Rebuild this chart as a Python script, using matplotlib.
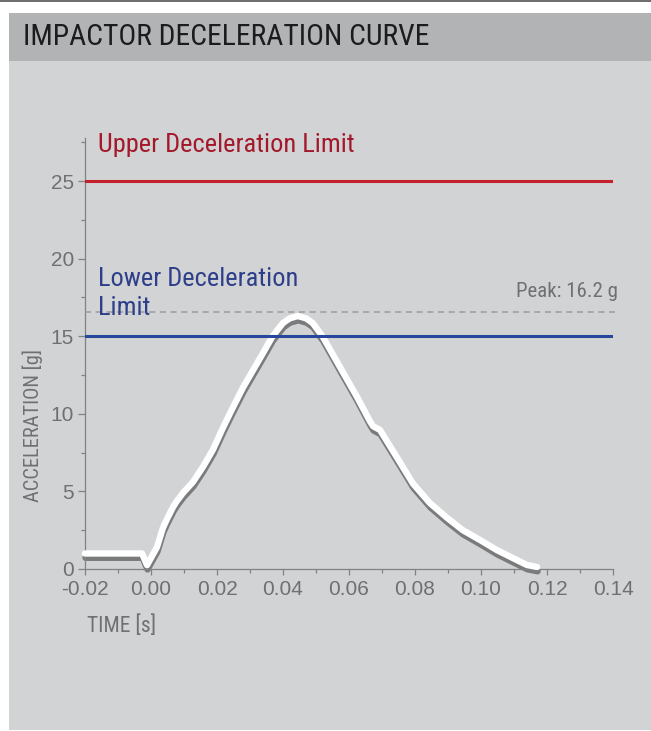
"""Impactor deceleration curve, redrawn with matplotlib."""
import matplotlib
matplotlib.use("Agg")
import matplotlib.pyplot as plt
import matplotlib.patches as mpatches
import matplotlib.transforms as mtransforms
from matplotlib import font_manager

# ── data ─────────────────────────────────────────────────────────
time_s = [-0.020, -0.0027, -0.0012, 0.0018, 0.0036, 0.0048, 0.0067, 0.0079,
          0.0097, 0.0127, 0.0158, 0.0188, 0.0218, 0.0248, 0.0279, 0.0309,
          0.0339, 0.0367, 0.0385, 0.0400, 0.0420, 0.0445, 0.0470, 0.0490,
          0.0521, 0.0573, 0.0624, 0.0664, 0.0673, 0.0694, 0.0745, 0.0794,
          0.0845, 0.0897, 0.0945, 0.0997, 0.1048, 0.1097, 0.1139, 0.1170]
accel_g = [1.0, 1.0, 0.25, 1.4, 2.64, 3.2, 4.0, 4.4,
           4.9, 5.6, 6.6, 7.7, 9.1, 10.4, 11.7, 12.8,
           13.9, 14.95, 15.45, 15.85, 16.15, 16.3, 16.15, 15.85,
           14.95, 13.0, 11.1, 9.5, 9.2, 8.96, 7.2, 5.5,
           4.25, 3.3, 2.5, 1.87, 1.22, 0.7, 0.26, 0.13]

upper_limit = 25
lower_limit = 15
peak_line = 16.56
peak_text = "Peak: 16.2 g"

x_ticks = [-0.02, 0.00, 0.02, 0.04, 0.06, 0.08, 0.10, 0.12, 0.14]
y_ticks = [0, 5, 10, 15, 20, 25]

W, H = 651, 731


def pick(names):
    have = {f.name for f in font_manager.fontManager.ttflist}
    return [n for n in names if n in have] + ["DejaVu Sans"]


NARROW = pick(["Liberation Sans Narrow", "DejaVu Sans Condensed", "Roboto Condensed"])
PLAIN = pick(["Liberation Sans", "Arial", "Roboto"])

GRAY_TXT = "#6f7072"

fig = plt.figure(figsize=(W / 100, H / 100), dpi=100, facecolor="white")

# ── page furniture ───────────────────────────────────────────────
def px_rect(x0, y0, x1, y1, color):
    fig.patches.append(mpatches.Rectangle(
        (x0 / W, 1 - y1 / H), (x1 - x0) / W, (y1 - y0) / H,
        transform=fig.transFigure, color=color, zorder=-10, lw=0))

px_rect(0, 0, W, 2, "#6e6f71")
px_rect(9, 13, W, H - 1, "#d2d3d5")
px_rect(9, 13, W, 61, "#b1b3b5")
fig.text(23 / W, 1 - 37 / H, "IMPACTOR DECELERATION CURVE", family=NARROW,
         fontsize=21.3, color="#1c1c1c", va="center", ha="left")

# ── axes ─────────────────────────────────────────────────────────
ax = fig.add_axes([85 / W, 1 - 569 / H, 528 / W, 431 / H])
ax.set_zorder(1)
ax.set_facecolor("none")
ax.set_xlim(-0.02, 0.14)
ax.set_ylim(0, 431 / 15.52)

for s in ("top", "right"):
    ax.spines[s].set_visible(False)
for s in ("left", "bottom"):
    ax.spines[s].set_color("#808284")
    ax.spines[s].set_linewidth(0.9)

ax.set_xticks(x_ticks, [f"{v:.2f}" for v in x_ticks])
ax.set_yticks(y_ticks, [str(v) for v in y_ticks])
ax.set_xticks([v + 0.01 for v in x_ticks[:-1]], minor=True)
ax.set_yticks([v + 2.5 for v in y_ticks], minor=True)
ax.tick_params(which="major", direction="out", length=4, width=0.9,
               color="#808284", labelcolor=GRAY_TXT, labelsize=15, pad=4)
ax.tick_params(which="minor", direction="out", length=3, width=0.9,
               color="#808284")
ax.tick_params(axis="y", which="major", length=5, pad=3)
for lab in ax.get_xticklabels() + ax.get_yticklabels():
    lab.set_family(PLAIN)

# curve: gray shadow slightly below, white on top
shadow = mtransforms.offset_copy(ax.transData, fig=fig, x=0.5, y=-4.3, units="dots")
ax.plot(time_s, accel_g, color="#7a7b7d", lw=4.6, solid_capstyle="round",
        solid_joinstyle="round", transform=shadow, zorder=2, clip_on=False)
ax.plot(time_s, accel_g, color="white", lw=4.6, solid_capstyle="round",
        solid_joinstyle="round", zorder=3, clip_on=False)

# limits
ax.axhline(upper_limit, color="#c4202e", lw=2.2, zorder=4)
ax.axhline(lower_limit, color="#26479b", lw=2.2, zorder=4)
ax.axhline(peak_line, xmax=1.004, color="#9a9b9d", lw=1.1, ls=(0, (4, 3)),
           zorder=4, clip_on=False)

ax.text(-0.0161, 27.3, "Upper Deceleration Limit", family=NARROW,
        fontsize=19, color="#a3192b", va="center", ha="left", zorder=5)
ax.text(-0.0161, 17.75, "Lower Deceleration\nLimit", family=NARROW,
        fontsize=19, color="#2e3f8a", va="center", ha="left",
        linespacing=1.3, zorder=5)
ax.text(0.1415, 17.53, peak_text, family=NARROW, fontsize=15,
        color=GRAY_TXT, va="baseline", ha="right", clip_on=False, zorder=5)

fig.text(32.5 / W, 1 - 425 / H, "ACCELERATION [g]", family=NARROW,
         fontsize=14.7, color=GRAY_TXT, rotation=90, va="center", ha="center")
fig.text(87 / W, 1 - 626 / H, "TIME [s]", family=NARROW, fontsize=15.5,
         color=GRAY_TXT, va="center", ha="left")

fig.savefig("out.png", dpi=100, facecolor="white")
